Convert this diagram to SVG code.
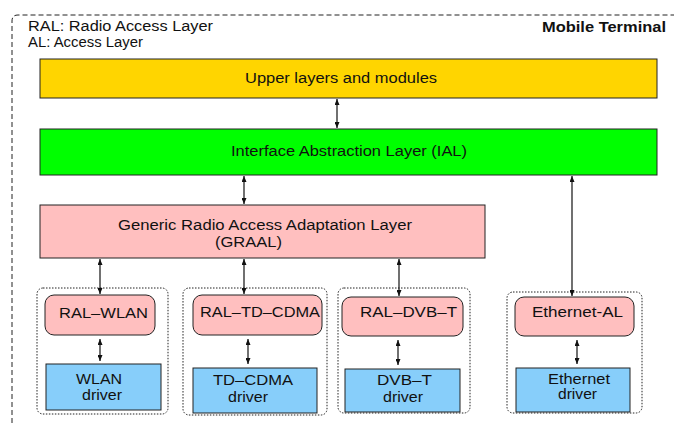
<svg xmlns="http://www.w3.org/2000/svg" width="674" height="423" viewBox="0 0 674 423">
  <style>
    text { font-family: "Liberation Sans", Arial, sans-serif; font-size: 14px; fill: #111; }
    .box { stroke: #222; stroke-width: 1; }
    .yellow { fill: #FFD500; }
    .green { fill: #00FF00; }
    .pink { fill: #FFBFBF; }
    .blue { fill: #87CEFA; }
    .grp { fill: none; stroke: #222; stroke-width: 1; stroke-dasharray: 1.5 1.5; }
    .frame { fill: none; stroke: #222; stroke-width: 1; stroke-dasharray: 5 3; }
    .conn line { stroke: #111; stroke-width: 1.2; marker-start: url(#head); marker-end: url(#head); }
  </style>
  <defs>
    <marker id="head" markerUnits="userSpaceOnUse" markerWidth="6" markerHeight="5" refX="6" refY="2.5" orient="auto-start-reverse">
      <path d="M0,0 L6,2.5 L0,5 z" fill="#111"/>
    </marker>
  </defs>

  <rect width="674" height="423" fill="#fff"/>

  <!-- terminal frame -->
  <path class="frame" d="M12,423 V21 Q12,15 18,15 H674"/>
  <text x="28" y="31" textLength="185" lengthAdjust="spacingAndGlyphs">RAL: Radio Access Layer</text>
  <text x="28" y="47" textLength="115" lengthAdjust="spacingAndGlyphs">AL: Access Layer</text>
  <text x="542" y="32" font-weight="bold" textLength="124" lengthAdjust="spacingAndGlyphs">Mobile Terminal</text>

  <g id="upper">
    <rect class="box yellow" x="40" y="59" width="617" height="39"/>
    <text x="245" y="83" textLength="192" lengthAdjust="spacingAndGlyphs">Upper layers and modules</text>
  </g>

  <g id="ial">
    <rect class="box green" x="40" y="129" width="617" height="46"/>
    <text x="231" y="155.5" textLength="236" lengthAdjust="spacingAndGlyphs">Interface Abstraction Layer (IAL)</text>
  </g>

  <g id="graal">
    <rect class="box pink" x="40" y="205" width="445" height="53"/>
    <text x="118" y="230" textLength="294" lengthAdjust="spacingAndGlyphs">Generic Radio Access Adaptation Layer</text>
    <text x="215" y="246.5" textLength="67" lengthAdjust="spacingAndGlyphs">(GRAAL)</text>
  </g>

  <g id="wlan-group">
    <rect class="grp" x="37" y="288" width="131" height="126" rx="6"/>
    <g id="ral-wlan">
      <rect class="box pink" x="45" y="295" width="110" height="40" rx="9"/>
      <text x="59" y="318" textLength="89" lengthAdjust="spacingAndGlyphs">RAL–WLAN</text>
    </g>
    <g id="wlan-driver">
      <rect class="box blue" x="46" y="364" width="115" height="46"/>
      <text x="76" y="384" textLength="46" lengthAdjust="spacingAndGlyphs">WLAN</text>
      <text x="82" y="400" textLength="40" lengthAdjust="spacingAndGlyphs">driver</text>
    </g>
  </g>

  <g id="tdcdma-group">
    <rect class="grp" x="183" y="288" width="144" height="127" rx="6"/>
    <g id="ral-tdcdma">
      <rect class="box pink" x="193" y="295" width="129" height="40" rx="9"/>
      <text x="200" y="317" textLength="120" lengthAdjust="spacingAndGlyphs">RAL–TD–CDMA</text>
    </g>
    <g id="tdcdma-driver">
      <rect class="box blue" x="193" y="368" width="124" height="45"/>
      <text x="213" y="385" textLength="80" lengthAdjust="spacingAndGlyphs">TD–CDMA</text>
      <text x="228" y="402" textLength="40" lengthAdjust="spacingAndGlyphs">driver</text>
    </g>
  </g>

  <g id="dvbt-group">
    <rect class="grp" x="338" y="288" width="132" height="125" rx="6"/>
    <g id="ral-dvbt">
      <rect class="box pink" x="342" y="297" width="121" height="39" rx="9"/>
      <text x="360" y="317" textLength="97" lengthAdjust="spacingAndGlyphs">RAL–DVB–T</text>
    </g>
    <g id="dvbt-driver">
      <rect class="box blue" x="345" y="369" width="115" height="43"/>
      <text x="377" y="385" textLength="55" lengthAdjust="spacingAndGlyphs">DVB–T</text>
      <text x="383" y="402" textLength="40" lengthAdjust="spacingAndGlyphs">driver</text>
    </g>
  </g>

  <g id="ethernet-group">
    <rect class="grp" x="507" y="292" width="135" height="121" rx="6"/>
    <g id="ethernet-al">
      <rect class="box pink" x="515" y="297" width="119" height="39" rx="9"/>
      <text x="532" y="317" textLength="91" lengthAdjust="spacingAndGlyphs">Ethernet-AL</text>
    </g>
    <g id="ethernet-driver">
      <rect class="box blue" x="516" y="368" width="114" height="44"/>
      <text x="548" y="384" textLength="62" lengthAdjust="spacingAndGlyphs">Ethernet</text>
      <text x="558" y="399" textLength="39" lengthAdjust="spacingAndGlyphs">driver</text>
    </g>
  </g>

  <g id="connectors" class="conn">
    <line x1="337" y1="99" x2="337" y2="128"/>
    <line x1="244" y1="176" x2="244" y2="204"/>
    <line x1="572" y1="176" x2="572" y2="296"/>
    <line x1="100" y1="259" x2="100" y2="294"/>
    <line x1="244" y1="259" x2="244" y2="294"/>
    <line x1="399" y1="259" x2="399" y2="296"/>
    <line x1="100" y1="339" x2="100" y2="361"/>
    <line x1="248" y1="339" x2="248" y2="364"/>
    <line x1="398" y1="340" x2="398" y2="365"/>
    <line x1="577" y1="340" x2="577" y2="364"/>
  </g>
</svg>
